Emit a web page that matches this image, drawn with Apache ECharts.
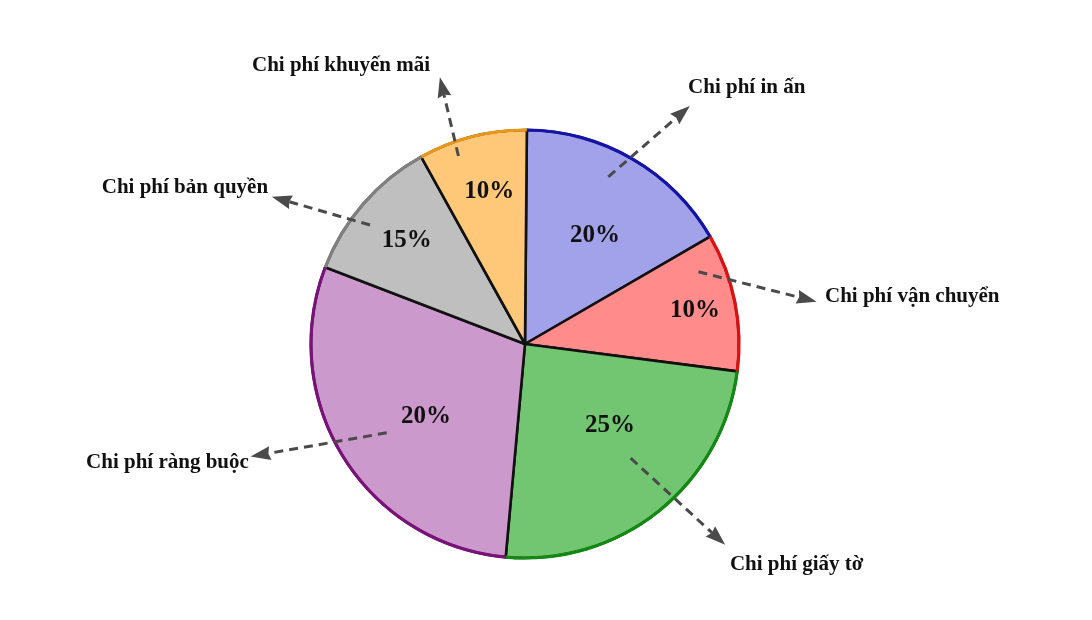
<!DOCTYPE html>
<html><head><meta charset="utf-8">
<script src="https://cdn.jsdelivr.net/npm/echarts/dist/echarts.min.js"></script>
<style>html,body{margin:0;padding:0;background:#fff}#c{width:1092px;height:620px}</style>
</head><body><div id="c"></div>
<script>
// ---- data ----
const categories = ['Chi phí in ấn', 'Chi phí vận chuyển', 'Chi phí giấy tờ', 'Chi phí ràng buộc', 'Chi phí bản quyền', 'Chi phí khuyến mãi'];
const sliceShares = [16.5, 10.4, 24.4, 29.4, 11.1, 8.2];   // shares as drawn
const percentTexts = ['20%', '10%', '25%', '20%', '15%', '10%'];

// ---- styles ----
const fillColors = ['#a2a2ea', '#ff8b8b', '#72c672', '#cc99cc', '#bfbfbf', '#ffc878'];
const edgeColors = ['#1414a8', '#dd1111', '#128a12', '#7a127a', '#808080', '#e8981a'];

// ---- annotation layout (polar: [radius fraction, degrees clockwise from top]) ----
const pctPos    = [[0.605, 32.7], [0.809, 79.0], [0.551, 133.9], [0.574, 233.7], [0.736, 311.3], [0.731, 346.8]];
const arrowFrom = [[0.873, 26.5], [0.878, 67.4], [0.727, 137.2], [0.768, 237.3], [0.913, 307.5], [0.932, 340.5]];
const arrowTo   = [[1.353, 34.7], [1.377, 81.75], [1.325, 135.1], [1.386, 247.7], [1.369, 300.2], [1.308, 342.3]];
const labelPos  = [[1.418, 32.5], [1.419, 81.1], [1.408, 137.15], [1.405, 246.7], [1.405, 301.3], [1.558, 326.5]];
const labelAlign = ['left', 'left', 'left', 'right', 'right', 'center'];

const CENTER = [525, 344];
const R = 214;
const SERIF = "'Liberation Serif', 'Times New Roman', serif";

const chart = echarts.init(document.getElementById('c'), null, { renderer: 'canvas' });

const pieData = categories.map((name, i) => ({
  name, value: sliceShares[i],
  itemStyle: { color: fillColors[i], borderColor: '#111111', borderWidth: 2.6 }
}));
const ringData = categories.map((name, i) => ({
  name, value: sliceShares[i],
  itemStyle: { color: edgeColors[i], borderWidth: 0 }
}));

function renderAnno(params, api) {
  const i = params.dataIndex;
  const p = (rc) => api.coord([rc[0], rc[1]]);
  const S = p(arrowFrom[i]), T = p(arrowTo[i]);
  const dx = T[0] - S[0], dy = T[1] - S[1];
  const len = Math.sqrt(dx * dx + dy * dy);
  const ux = dx / len, uy = dy / len;
  const headLen = 20, hw = 7;
  const B = [T[0] - ux * headLen, T[1] - uy * headLen];
  const nx = -uy, ny = ux;
  const P = p(pctPos[i]);
  const L = p(labelPos[i]);
  return {
    type: 'group',
    children: [
      { type: 'line', shape: { x1: S[0], y1: S[1], x2: B[0] + ux * 2, y2: B[1] + uy * 2 },
        style: { stroke: '#4a4a4a', lineWidth: 3, lineDash: [9, 6] } },
      { type: 'polygon', shape: { points: [T, [B[0] + nx * hw, B[1] + ny * hw], [B[0] + ux * 2, B[1] + uy * 2], [B[0] - nx * hw, B[1] - ny * hw]] },
        style: { fill: '#4a4a4a' } },
      { type: 'text', x: P[0], y: P[1],
        style: { text: percentTexts[i], fill: '#111', font: 'bold 25px ' + SERIF, align: 'center', verticalAlign: 'middle' } },
      { type: 'text', x: L[0], y: L[1],
        style: { text: categories[i], fill: '#111', font: 'bold 21px ' + SERIF, align: labelAlign[i], verticalAlign: 'middle' } }
    ]
  };
}

chart.setOption({
  animation: false,
  backgroundColor: '#ffffff',
  polar: { center: CENTER, radius: [0, R] },
  angleAxis: { type: 'value', min: 0, max: 360, startAngle: 90, clockwise: true, show: false },
  radiusAxis: { type: 'value', min: 0, max: 1, show: false },
  series: [
    {
      type: 'pie', center: CENTER, radius: [0, R], startAngle: 89.5, clockwise: true,
      silent: true, label: { show: false }, labelLine: { show: false },
      data: pieData, z: 1
    },
    {
      type: 'pie', center: CENTER, radius: [R - 1.6, R + 1.6], startAngle: 89.5, clockwise: true,
      silent: true, label: { show: false }, labelLine: { show: false },
      data: ringData, z: 2
    },
    {
      type: 'custom', coordinateSystem: 'polar', silent: true, clip: false, z: 10,
      data: categories.map((c, i) => [pctPos[i][0], pctPos[i][1]]),
      renderItem: renderAnno
    }
  ]
});
</script>
</body></html>
